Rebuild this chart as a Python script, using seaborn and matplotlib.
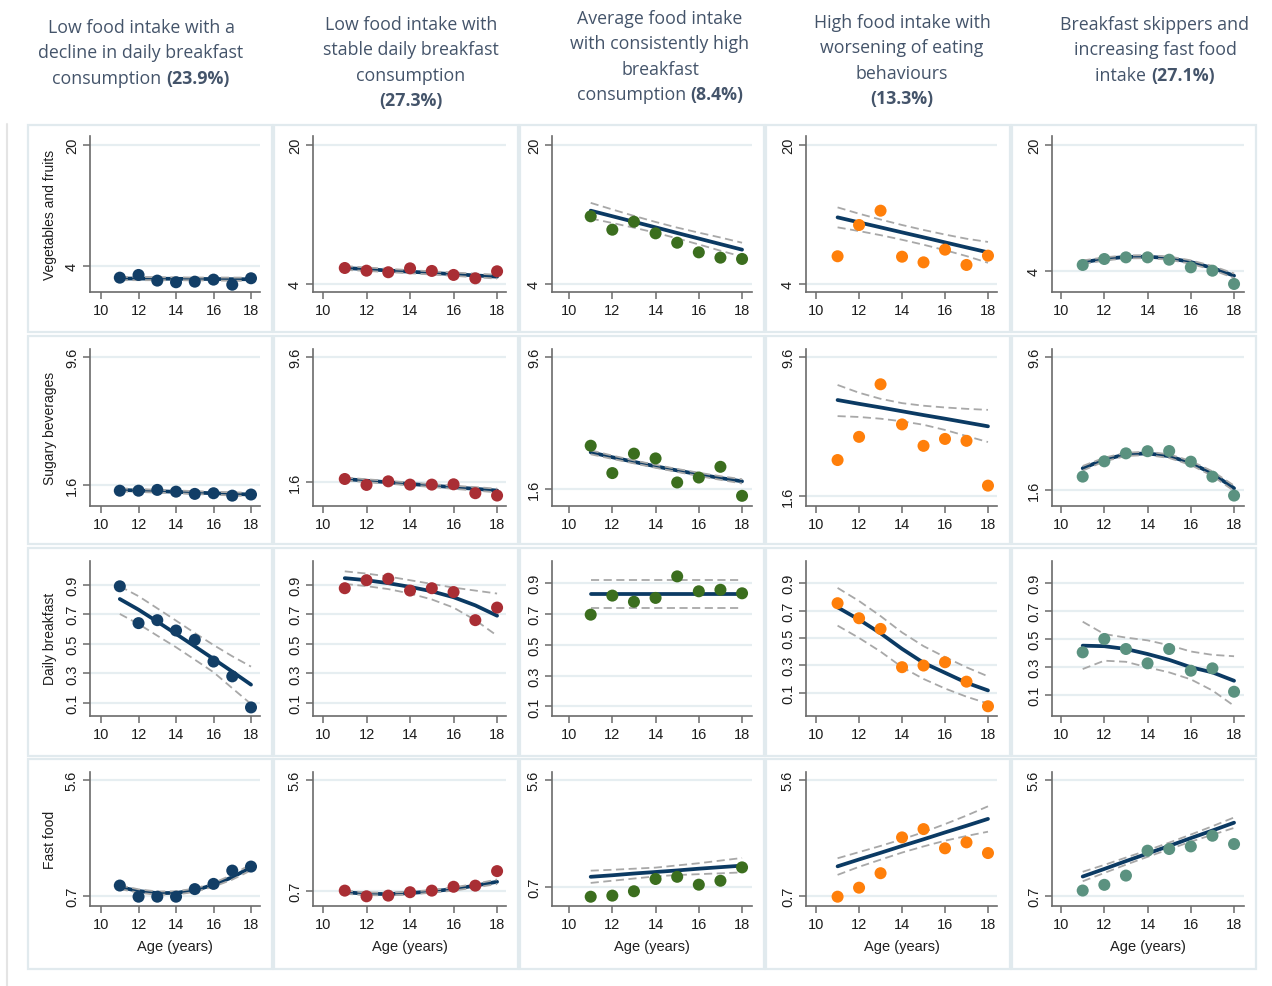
import numpy as np
import pandas as pd
import matplotlib
matplotlib.use("Agg")
import matplotlib.pyplot as plt
import seaborn as sns
from matplotlib.patches import Rectangle
from matplotlib.lines import Line2D

# ---------------- data ----------------
ages = [11, 12, 13, 14, 15, 16, 17, 18]
x_ticks = [10, 12, 14, 16, 18]

row_labels = ["Vegetables and fruits", "Sugary beverages", "Daily breakfast", "Fast food"]
y_ticks = [[4, 20], [1.6, 9.6], [0.1, 0.3, 0.5, 0.7, 0.9], [0.7, 5.6]]
y_ticklabels = [["4", "20"], ["1.6", "9.6"], ["0.1", "0.3", "0.5", "0.7", "0.9"], ["0.7", "5.6"]]

titles = [
    [[("Low food intake with a", "normal")],
     [("decline in daily breakfast", "normal")],
     [("consumption ", "normal"), ("(23.9%)", "bold")]],
    [[("Low food intake with", "normal")],
     [("stable daily breakfast", "normal")],
     [("consumption", "normal")],
     [("(27.3%)", "bold")]],
    [[("Average food intake", "normal")],
     [("with consistently high", "normal")],
     [("breakfast", "normal")],
     [("consumption ", "normal"), ("(8.4%)", "bold")]],
    [[("High food intake with", "normal")],
     [("worsening of eating", "normal")],
     [("behaviours", "normal")],
     [("(13.3%)", "bold")]],
    [[("Breakfast skippers and", "normal")],
     [("increasing fast food", "normal")],
     [("intake ", "normal"), ("(27.1%)", "bold")]],
]

# Vegetables and fruits
veg_pts = [[2.41, 2.77, 2.02, 1.80, 1.88, 2.15, 1.48, 2.33],
           [5.84, 5.53, 5.35, 5.80, 5.50, 5.04, 4.65, 5.46],
           [11.79, 10.25, 11.17, 9.83, 8.75, 7.64, 7.03, 6.88],
           [7.19, 10.79, 12.44, 7.14, 6.49, 7.95, 6.19, 7.26],
           [4.73, 5.49, 5.70, 5.70, 5.40, 4.43, 4.00, 2.31]]
veg_fit = [[2.30, 2.29, 2.27, 2.26, 2.24, 2.23, 2.21, 2.20],
           [5.84, 5.70, 5.55, 5.41, 5.27, 5.13, 4.98, 4.84],
           [12.44, 11.80, 11.16, 10.52, 9.87, 9.23, 8.59, 7.95],
           [11.67, 11.09, 10.52, 9.94, 9.37, 8.79, 8.21, 7.64],
           [5.07, 5.50, 5.76, 5.78, 5.60, 5.10, 4.35, 3.36]]
veg_hi = [[2.52, 2.50, 2.47, 2.45, 2.43, 2.43, 2.42, 2.42],
          [6.06, 5.90, 5.74, 5.59, 5.45, 5.32, 5.19, 5.06],
          [13.34, 12.58, 11.84, 11.14, 10.49, 9.91, 9.35, 8.75],
          [12.82, 12.09, 11.42, 10.79, 10.22, 9.69, 9.21, 8.84],
          [5.30, 5.70, 5.95, 5.97, 5.80, 5.32, 4.60, 3.65]]
veg_lo = [[2.08, 2.08, 2.07, 2.07, 2.05, 2.03, 2.00, 1.98],
          [5.62, 5.50, 5.36, 5.23, 5.09, 4.94, 4.77, 4.62],
          [11.54, 11.02, 10.48, 9.90, 9.25, 8.55, 7.83, 7.15],
          [10.52, 10.09, 9.62, 9.09, 8.52, 7.89, 7.21, 6.44],
          [4.84, 5.30, 5.57, 5.59, 5.40, 4.88, 4.10, 3.07]]

# Sugary beverages
sug_pts = [[1.24, 1.24, 1.29, 1.18, 1.04, 1.08, 0.93, 1.00],
           [1.81, 1.43, 1.66, 1.45, 1.45, 1.47, 0.90, 0.75],
           [4.23, 2.57, 3.75, 3.46, 2.00, 2.30, 2.95, 1.19],
           [3.66, 5.00, 8.04, 5.72, 4.48, 4.88, 4.77, 2.18],
           [2.42, 3.34, 3.82, 3.95, 3.96, 3.32, 2.42, 1.28]]
sug_fit = [[1.29, 1.25, 1.21, 1.17, 1.12, 1.08, 1.04, 1.00],
           [1.81, 1.70, 1.60, 1.49, 1.39, 1.28, 1.18, 1.07],
           [3.83, 3.53, 3.25, 2.98, 2.73, 2.49, 2.27, 2.07],
           [7.13, 6.91, 6.70, 6.48, 6.26, 6.05, 5.83, 5.61],
           [2.92, 3.45, 3.76, 3.82, 3.65, 3.24, 2.60, 1.72]]
sug_hi = [[1.39, 1.34, 1.30, 1.26, 1.21, 1.17, 1.14, 1.11],
          [1.91, 1.79, 1.69, 1.58, 1.48, 1.38, 1.29, 1.19],
          [3.95, 3.63, 3.34, 3.07, 2.82, 2.59, 2.38, 2.20],
          [8.00, 7.55, 7.20, 6.95, 6.80, 6.70, 6.62, 6.56],
          [3.06, 3.56, 3.86, 3.92, 3.76, 3.36, 2.74, 1.88]]
sug_lo = [[1.19, 1.16, 1.12, 1.08, 1.03, 0.99, 0.94, 0.89],
          [1.71, 1.61, 1.51, 1.40, 1.30, 1.18, 1.07, 0.95],
          [3.71, 3.43, 3.16, 2.89, 2.64, 2.39, 2.16, 1.94],
          [6.20, 6.15, 6.05, 5.90, 5.70, 5.40, 5.05, 4.70],
          [2.78, 3.34, 3.66, 3.72, 3.54, 3.12, 2.46, 1.56]]

# Daily breakfast
bf_pts = [[0.889, 0.640, 0.660, 0.590, 0.527, 0.380, 0.280, 0.070],
          [0.876, 0.930, 0.940, 0.860, 0.876, 0.850, 0.660, 0.745],
          [0.696, 0.820, 0.780, 0.805, 0.945, 0.848, 0.858, 0.835],
          [0.754, 0.644, 0.566, 0.286, 0.298, 0.322, 0.180, 0.000],
          [0.404, 0.500, 0.428, 0.325, 0.428, 0.272, 0.289, 0.121]]
bf_fit = [[0.803, 0.731, 0.650, 0.567, 0.483, 0.398, 0.312, 0.224],
          [0.944, 0.930, 0.910, 0.885, 0.855, 0.815, 0.760, 0.690],
          [0.830, 0.830, 0.830, 0.830, 0.830, 0.830, 0.830, 0.830],
          [0.724, 0.634, 0.534, 0.420, 0.318, 0.245, 0.172, 0.116],
          [0.452, 0.448, 0.428, 0.392, 0.350, 0.297, 0.260, 0.200]]
bf_hi = [[0.889, 0.822, 0.740, 0.657, 0.573, 0.492, 0.416, 0.346],
         [0.990, 0.975, 0.955, 0.930, 0.905, 0.880, 0.860, 0.840],
         [0.920, 0.920, 0.920, 0.920, 0.920, 0.920, 0.920, 0.920],
         [0.866, 0.770, 0.660, 0.540, 0.440, 0.360, 0.285, 0.219],
         [0.624, 0.535, 0.510, 0.490, 0.455, 0.410, 0.386, 0.376]]
bf_lo = [[0.702, 0.634, 0.555, 0.477, 0.393, 0.308, 0.200, 0.093],
         [0.905, 0.890, 0.870, 0.840, 0.800, 0.745, 0.660, 0.555],
         [0.740, 0.740, 0.740, 0.740, 0.740, 0.740, 0.740, 0.740],
         [0.590, 0.500, 0.400, 0.286, 0.200, 0.130, 0.070, 0.020],
         [0.284, 0.344, 0.336, 0.296, 0.260, 0.210, 0.130, 0.020]]

# Fast food
ff_pts = [[1.15, 0.68, 0.68, 0.68, 1.00, 1.22, 1.78, 1.95],
          [0.73, 0.48, 0.51, 0.66, 0.73, 0.90, 0.95, 1.59],
          [0.27, 0.32, 0.52, 1.08, 1.18, 0.82, 1.00, 1.61],
          [0.68, 1.06, 1.67, 3.18, 3.53, 2.72, 2.97, 2.52],
          [0.94, 1.18, 1.57, 2.62, 2.69, 2.80, 3.25, 2.90]]
ff_fit = [[1.08, 0.92, 0.83, 0.84, 0.95, 1.18, 1.50, 1.92],
          [0.66, 0.59, 0.58, 0.62, 0.70, 0.80, 0.95, 1.12],
          [1.18, 1.25, 1.33, 1.40, 1.47, 1.55, 1.62, 1.69],
          [1.96, 2.25, 2.53, 2.82, 3.10, 3.39, 3.67, 3.96],
          [1.53, 1.85, 2.18, 2.50, 2.82, 3.15, 3.47, 3.80]]
ff_hi = [[1.16, 0.99, 0.90, 0.91, 1.02, 1.26, 1.60, 2.05],
         [0.73, 0.65, 0.64, 0.68, 0.76, 0.87, 1.03, 1.22],
         [1.46, 1.50, 1.55, 1.60, 1.70, 1.80, 1.92, 2.04],
         [2.30, 2.56, 2.82, 3.10, 3.40, 3.74, 4.10, 4.49],
         [1.73, 2.02, 2.33, 2.64, 2.96, 3.30, 3.65, 4.02]]
ff_lo = [[1.00, 0.85, 0.76, 0.77, 0.88, 1.10, 1.40, 1.79],
         [0.59, 0.53, 0.52, 0.56, 0.64, 0.73, 0.87, 1.02],
         [0.90, 1.00, 1.10, 1.20, 1.26, 1.30, 1.34, 1.38],
         [1.60, 1.94, 2.24, 2.54, 2.80, 3.04, 3.24, 3.42],
         [1.33, 1.68, 2.03, 2.36, 2.68, 3.00, 3.29, 3.58]]

rows = [(veg_pts, veg_fit, veg_hi, veg_lo),
        (sug_pts, sug_fit, sug_hi, sug_lo),
        (bf_pts, bf_fit, bf_hi, bf_lo),
        (ff_pts, ff_fit, ff_hi, ff_lo)]

# ---------------- style / layout ----------------
point_colors = ["#123e66", "#a92e34", "#3b6e1e", "#ff7f0a", "#5b9280"]
fit_color = "#0b3a63"
ci_color = "#a8a8a8"
grid_color = "#e6eef1"
box_color = "#e1eaee"
spine_color = "#6b6b6b"
text_color = "#1e1e1e"
title_color = "#44546a"

W, H = 1272, 987
col_x = [(90, 260), (313, 506), (552, 752), (806, 997), (1052, 1244)]
row_y = [(137, 293.3), (350, 506.7), (561.7, 716.7), (772.7, 906.7)]
xlims = [(9.41, 18.48), (9.54, 18.41), (9.21, 18.46), (9.53, 18.42), (9.58, 18.46)]
ylims = [[(0.47, 21.19), (3.04, 21.04), (3.04, 21.04), (3.04, 21.04), (1.25, 21.15)],
         [(0.30, 10.12), (0.10, 10.13), (0.59, 10.10), (1.02, 10.08), (0.67, 10.10)],
         [(0.014, 1.062), (0.014, 1.062), (0.039, 1.047), (-0.069, 1.065), (-0.051, 1.062)],
         [(0.30, 5.95), (0.066, 5.97), (-0.14, 5.98), (0.30, 5.95), (0.30, 5.95)]]
box_x = [(28, 272), (274, 518), (520, 764), (766, 1010), (1012, 1256)]
box_y = [(126, 333), (337, 545), (549, 757), (760, 970)]
title_cx = [141, 411, 660, 902, 1155]
title_y0 = [28, 25, 19, 23, 25]
title_dy = 25.3

sns.set_theme(style="white")
plt.rcParams["font.family"] = ["Liberation Sans", "DejaVu Sans"]

fig = plt.figure(figsize=(W / 100, H / 100), dpi=100)
fig.patch.set_facecolor("white")

# panel boxes
for (bx0, bx1) in box_x:
    for (by0, by1) in box_y:
        fig.patches.append(Rectangle((bx0 / W, 1 - by1 / H), (bx1 - bx0) / W, (by1 - by0) / H,
                                     transform=fig.transFigure, fill=False,
                                     edgecolor=box_color, lw=1.6, zorder=0))
fig.lines.append(Line2D([7 / W, 7 / W], [1 - 125 / H, 0], transform=fig.transFigure,
                        color="#e4e4e4", lw=1.5))

for r, (pts, fit, hi, lo) in enumerate(rows):
    y0, y1 = row_y[r]
    for c in range(5):
        x0, x1 = col_x[c]
        ax = fig.add_axes([x0 / W, 1 - y1 / H, (x1 - x0) / W, (y1 - y0) / H])
        ax.set_facecolor("none")
        df = pd.DataFrame({"age": ages, "value": pts[c], "fit": fit[c],
                           "hi": hi[c], "lo": lo[c]})
        sns.lineplot(data=df, x="age", y="fit", ax=ax, color=fit_color, lw=2.7,
                     zorder=3, estimator=None)
        for col in ("hi", "lo"):
            sns.lineplot(data=df, x="age", y=col, ax=ax, color=ci_color, lw=1.3,
                         linestyle=(0, (4.5, 2.5)), zorder=4, estimator=None)
        sns.scatterplot(data=df, x="age", y="value", ax=ax, color=point_colors[c],
                        s=75, edgecolor="none", linewidth=0, zorder=5)
        ax.set_xlim(*xlims[c])
        ax.set_ylim(*ylims[r][c])
        ax.set_xticks(x_ticks)
        ax.set_xticklabels([str(t) for t in x_ticks])
        ax.set_yticks(y_ticks[r])
        ax.set_yticklabels(y_ticklabels[r], rotation=90, va="center")
        ax.set_xlabel("")
        ax.set_ylabel("")
        ax.yaxis.grid(True, color=grid_color, lw=1.6, zorder=0)
        ax.xaxis.grid(False)
        ax.set_axisbelow(True)
        for s in ("top", "right"):
            ax.spines[s].set_visible(False)
        for s in ("left", "bottom"):
            ax.spines[s].set_color(spine_color)
            ax.spines[s].set_linewidth(1.2)
        ax.tick_params(axis="both", which="major", direction="out", length=5, width=1.1,
                       color=spine_color, labelsize=10.5, labelcolor=text_color, pad=3,
                       bottom=True, left=True)
        if r == 3:
            fig.text(((x0 + x1) / 2) / W, 1 - 947 / H, "Age (years)", ha="center", va="center",
                     fontsize=10.5, color=text_color)
    fig.text(50 / W, 1 - ((y0 + y1) / 2) / H, row_labels[r], rotation=90, ha="center",
             va="center", fontsize=10, color=text_color)

# column titles with mixed bold segments
renderer = fig.canvas.get_renderer()
tfont = ["Open Sans", "DejaVu Sans"]
tsize = 12.8


def seg_width(txt, weight):
    t = fig.text(0, 0, txt.replace(" ", "\u00a0"), fontsize=tsize, fontweight=weight,
                 family=tfont)
    w = t.get_window_extent(renderer).width
    t.remove()
    return w


for c, lines in enumerate(titles):
    for i, segs in enumerate(lines):
        widths = [seg_width(s, w) for s, w in segs]
        xs = title_cx[c] - sum(widths) / 2
        yc = title_y0[c] + i * title_dy
        for (s, w), wd in zip(segs, widths):
            fig.text(xs / W, 1 - yc / H, s.replace(" ", "\u00a0"), ha="left", va="center",
                     fontsize=tsize, fontweight=w, family=tfont, color=title_color)
            xs += wd

fig.savefig("out.png", dpi=100, facecolor="white")
